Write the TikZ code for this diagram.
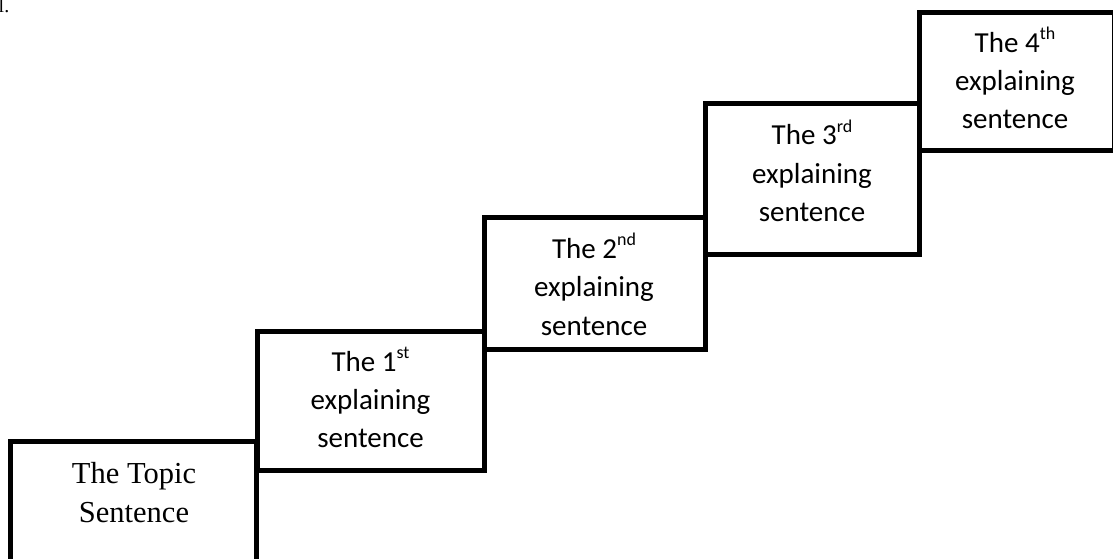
\documentclass[tikz,border=0pt]{standalone}
\usepackage{fontspec}
\setmainfont{Liberation Serif}
\newfontfamily\calib{Carlito}
\newcommand\ordsup[1]{\raisebox{13pt}{\fontsize{18}{18}\selectfont #1}}
\begin{document}
\begin{tikzpicture}[x=1pt,y=-1pt,
  stairbox/.style={draw=black, line width=5pt, fill=white, inner sep=0pt, outer sep=0pt},
  sanslabel/.style={font=\calib\fontsize{29}{38}\selectfont, anchor=base, inner sep=0pt},
  seriflabel/.style={font=\fontsize{30.5}{39}\selectfont, anchor=base, inner sep=0pt}]
  \useasboundingbox (0,0) rectangle (1113,559);
  \clip (0,0) rectangle (1113,559);

  % cut-off text at the top left corner
  \node[font=\fontsize{20}{20}\selectfont, anchor=base west, inner sep=0pt] (corner) at (-1.5,13) {l.};

  % the steps, lowest first
  \node[stairbox, minimum width=246.2pt, minimum height=200pt] (s0) at (133.6,541.5) {};
  \node[stairbox, minimum width=227pt, minimum height=139.5pt] (s1) at (370.5,400.75) {};
  \node[stairbox, minimum width=221pt, minimum height=131.5pt] (s2) at (594.5,283.25) {};
  \node[stairbox, minimum width=214pt, minimum height=150pt] (s3) at (812,179) {};
  \node[stairbox, minimum width=195.5pt, minimum height=138pt] (s4) at (1016.75,81.5) {};

  % step texts
  \node[seriflabel] (s0a) at (134,483) {The Topic};
  \node[seriflabel] (s0b) at (134,522) {Sentence};

  \node[sanslabel] (s1a) at (370.5,371) {The 1\ordsup{st}};
  \node[sanslabel] (s1b) at (370.5,409.5) {explaining};
  \node[sanslabel] (s1c) at (370.5,447.5) {sentence};

  \node[sanslabel] (s2a) at (594,258.3) {The 2\ordsup{nd}};
  \node[sanslabel] (s2b) at (594,296.7) {explaining};
  \node[sanslabel] (s2c) at (594,335) {sentence};

  \node[sanslabel] (s3a) at (812,145) {The 3\ordsup{rd}};
  \node[sanslabel] (s3b) at (812,183.3) {explaining};
  \node[sanslabel] (s3c) at (812,221) {sentence};

  \node[sanslabel] (s4a) at (1015,52.5) {The 4\ordsup{th}};
  \node[sanslabel] (s4b) at (1015,90.5) {explaining};
  \node[sanslabel] (s4c) at (1015,128.5) {sentence};
\end{tikzpicture}
\end{document}
